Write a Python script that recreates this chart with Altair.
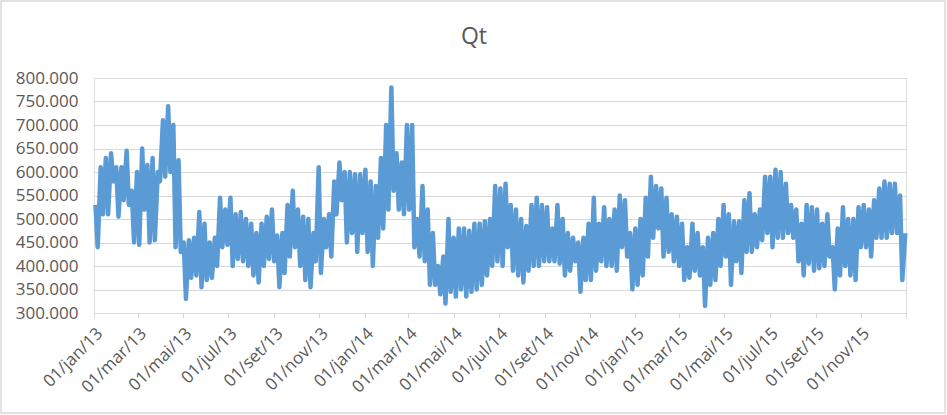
import altair as alt
import pandas as pd

# Qt (thousands): weekly high (mid-week) and weekly low (weekend)
qt_high = [530, 610, 630, 640, 610, 610, 645, 560, 600, 650, 615, 630, 600, 710, 740, 700, 625, 450, 455, 460,
           515, 490, 450, 460, 545, 520, 545, 510, 515, 500, 490, 470, 490, 505, 520, 465, 470, 530, 560, 520,
           505, 500, 470, 610, 500, 510, 580, 620, 600, 600, 595, 595,
           605, 580, 570, 630, 700, 780, 640, 620, 700, 700, 500, 570, 520, 470, 400, 420, 500, 460, 480, 480,
           475, 490, 490, 495, 500, 570, 565, 575, 530, 520, 500, 485, 530, 545, 530, 525, 480, 530, 500, 470,
           460, 450, 460, 490, 545, 490, 525, 500, 520, 550, 540, 470,
           480, 500, 545, 590, 570, 565, 545, 510, 505, 490, 440, 490, 470, 440, 460, 470, 500, 530, 510, 495,
           495, 540, 555, 510, 520, 590, 590, 605, 600, 575, 530, 520, 490, 530, 525, 520, 490, 510, 440, 480,
           525, 500, 500, 525, 530, 520, 540, 565, 580, 575, 575, 550, 470]
qt_low = [440, 510, 510, 580, 505, 540, 530, 450, 445, 520, 450, 455, 580, 590, 600, 440, 430, 330, 375, 380,
          355, 370, 375, 400, 440, 445, 400, 415, 410, 400, 380, 365, 400, 415, 410, 355, 385, 420, 440, 400,
          370, 355, 410, 385, 440, 420, 510, 540, 450, 470, 430, 470,
          430, 400, 460, 480, 520, 560, 520, 510, 520, 440, 420, 410, 360, 360, 340, 320, 345, 335, 350, 335,
          345, 350, 360, 380, 400, 410, 400, 440, 390, 380, 365, 390, 400, 400, 410, 410, 410, 405, 380, 390,
          410, 345, 370, 370, 390, 410, 400, 400, 390, 440, 420, 350,
          360, 380, 420, 460, 480, 420, 430, 410, 400, 370, 375, 390, 380, 315, 360, 370, 400, 420, 360, 410,
          385, 430, 430, 440, 455, 470, 440, 460, 460, 470, 460, 410, 380, 405, 390, 395, 400, 420, 350, 380,
          400, 380, 370, 440, 440, 420, 460, 460, 460, 470, 470, 370, 430]
y_ticks = [300, 350, 400, 450, 500, 550, 600, 650, 700, 750, 800]
month_pt = ["jan", "fev", "mar", "abr", "mai", "jun", "jul", "ago", "set", "out", "nov", "dez"]
chart_title = "Qt"

weeks = pd.date_range("2013-01-01", periods=len(qt_high), freq="7D")
rows = []
for w, h, l in zip(weeks, qt_high, qt_low):
    rows.append((w + pd.Timedelta(days=2), h))
    rows.append((w + pd.Timedelta(days=5), l))
df = pd.DataFrame(rows, columns=["data", "qt"])
df = df[df["data"] <= pd.Timestamp("2015-12-31")].copy()
df["data"] = df["data"].dt.strftime("%Y-%m-%dT00:00:00Z")

x_ticks = []
for y in (2013, 2014, 2015):
    for m in (1, 3, 5, 7, 9, 11):
        x_ticks.append(alt.DateTime(year=y, month=m, date=1, utc=True))
x_ticks.append(alt.DateTime(year=2016, month=1, date=1, utc=True))

months_js = "[" + ",".join("'" + m + "'" for m in month_pt) + "]"
x_label_expr = ("utcyear(datum.value) >= 2016 ? '' : '01/' + " + months_js +
                "[utcmonth(datum.value)] + '/' + utcFormat(datum.value, '%y')")

FONT = "Open Sans"
GREY = "#595959"

line = alt.Chart(df).mark_line(color="#5B9BD5", strokeWidth=4.5, strokeJoin="round").encode(
    x=alt.X("data:T",
            scale=alt.Scale(type="utc",
                            domain=[alt.DateTime(year=2013, month=1, date=1, utc=True),
                                    alt.DateTime(year=2016, month=1, date=1, utc=True)]),
            axis=alt.Axis(title=None, values=x_ticks, labelExpr=x_label_expr, labelAngle=-45,
                          grid=False, domainColor="#D9D9D9", tickColor="#D9D9D9", tickSize=5,
                          labelFont=FONT, labelFontSize=17, labelColor=GREY, labelPadding=7,
                          labelOverlap=False, labelFlush=False)),
    y=alt.Y("qt:Q",
            scale=alt.Scale(domain=[300, 800], nice=False, zero=False),
            axis=alt.Axis(title=None, values=y_ticks, labelExpr="format(datum.value, '.3f')",
                          grid=True, gridColor="#D9D9D9", gridWidth=1, domain=False, ticks=False,
                          labelFont=FONT, labelFontSize=17, labelColor=GREY, labelPadding=16)),
)

border = alt.Chart(pd.DataFrame({"k": [0]})).mark_rect(
    fillOpacity=0, stroke="#D9D9D9", strokeWidth=1.5
).encode(x=alt.value(-93), x2=alt.value(851), y=alt.value(-77), y2=alt.value(335))

title = alt.Chart(pd.DataFrame({"t": [chart_title]})).mark_text(
    font=FONT, fontSize=23, color=GREY, align="center", baseline="alphabetic"
).encode(text="t:N", x=alt.value(380), y=alt.value(-34))

chart = alt.layer(border, title, line).properties(
    width=812, height=235,
    autosize=alt.AutoSizeParams(type="none"),
    padding={"left": 94, "top": 78, "right": 41, "bottom": 102},
).configure_view(stroke=None).configure(background="white")

chart.save("out.html", embed_options={"renderer": "svg", "actions": False})
